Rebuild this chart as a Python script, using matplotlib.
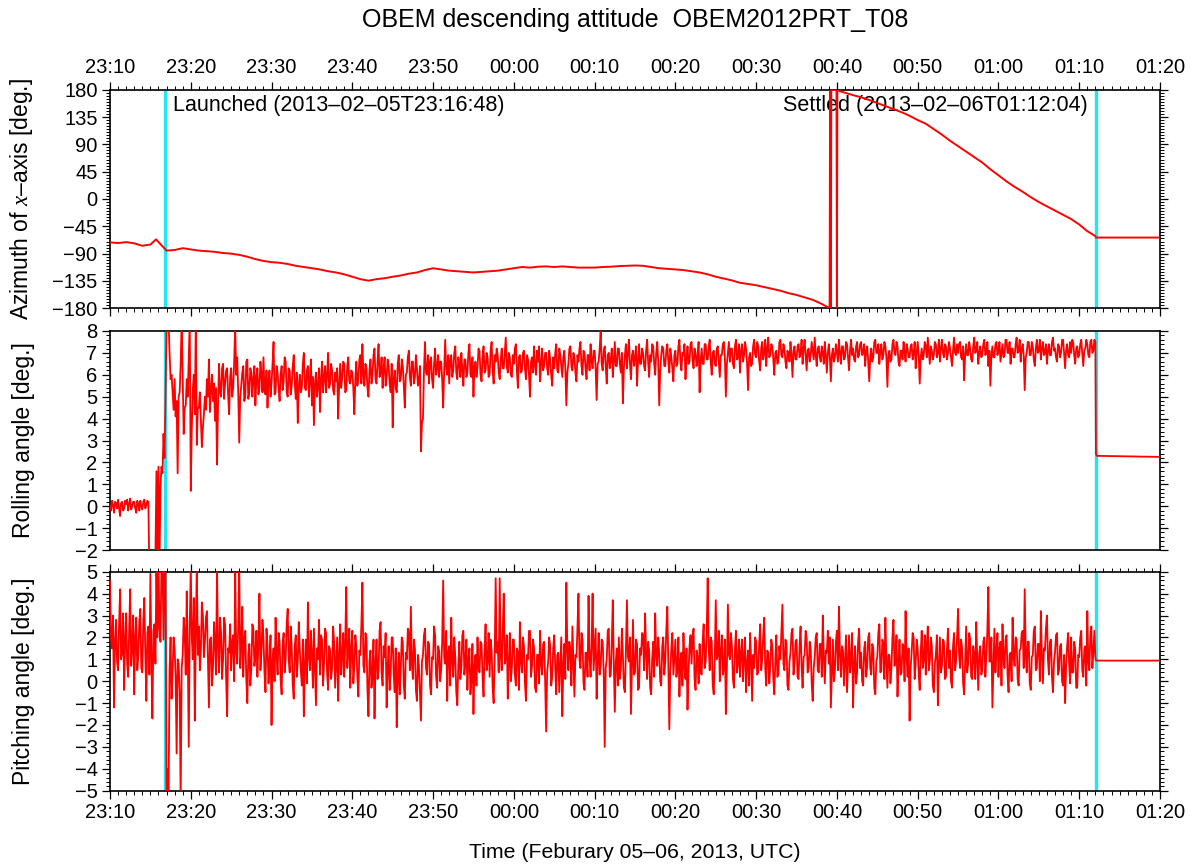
import numpy as np
import pandas as pd
import matplotlib
matplotlib.use("Agg")
import matplotlib.pyplot as plt
import matplotlib.dates as mdates
from matplotlib.ticker import MultipleLocator

plt.rcParams['font.family'] = ['Liberation Sans', 'DejaVu Sans']
plt.rcParams['mathtext.fontset'] = 'custom'
plt.rcParams['mathtext.it'] = 'Liberation Serif:italic'
plt.rcParams['mathtext.rm'] = 'Liberation Sans'

start = pd.Timestamp("2013-02-05 23:10:00")
end = pd.Timestamp("2013-02-06 01:20:00")
launched = pd.Timestamp("2013-02-05 23:16:48")
settled = pd.Timestamp("2013-02-06 01:12:04")

# azimuth of x-axis, minutes after 23:10
az_min = [0, 1, 2, 3, 4, 5, 5.7, 6.3, 6.8, 7, 8, 9, 10, 11, 12, 13, 14, 15, 16, 17,
          18, 19, 20, 21, 22, 23, 24, 25, 26, 27, 28, 29, 30, 31, 32, 33, 34, 35, 36, 37,
          38, 39, 40, 41, 42, 43, 44, 45, 46, 47, 48, 49, 50, 51, 52, 53, 54, 55, 56, 57,
          58, 59, 60, 61, 62, 63, 64, 65, 66, 67, 68, 69, 70, 71, 72, 73, 74, 75, 76, 77,
          78, 79, 80, 81, 82, 83, 84, 85, 86, 87, 88, 88.7, 89.1,
          89.15, 89.25, 89.3, 89.95, 90.0, 90.05,
          90.5, 91, 92, 93, 94, 95, 96, 97, 98, 99, 100, 101, 102, 103, 104, 105, 106, 107,
          108, 109, 110, 111, 112, 113, 114, 115, 116, 117, 118, 119, 120, 121, 122,
          122.07, 130]
az_deg = [-71.5, -72.5, -71, -73, -77, -75, -66.5, -75, -82, -85, -84, -81, -83, -85, -86,
          -87, -89, -90, -92, -95, -99, -102, -104, -105, -107, -110, -112, -114, -116,
          -119, -121, -124, -128, -132, -134.5, -132, -130.5, -128, -126, -123, -121, -117,
          -114, -116, -118, -119, -120, -121, -120, -119, -118, -116, -114, -112, -113,
          -111.5, -111, -112, -111, -112, -113, -113, -113, -112, -111.5, -110.5, -110,
          -109.5, -110, -112, -114, -115, -116, -117, -119, -121, -124, -128, -131, -134,
          -138, -140, -142, -145, -148, -151, -155, -158, -162, -166, -172, -177, -179.5,
          179.5, -179.5, 179.5, 179.5, -179.5, 179.2,
          177, 175, 171, 167.5, 163, 158, 153, 148, 143, 137, 130, 124, 115, 106, 96, 87,
          78, 69, 60, 49, 39, 29, 20, 12, 3, -5, -12, -19, -26, -33, -42, -53, -61,
          -63.5, -63.5]

# rolling angle, 8 samples per minute from 23:10 (one row per minute)
roll_rows = [
    [0.0, -0.2, 0.25, 0.05, -0.3, 0.2, 0.15, -0.1],
    [0.3, -0.1, -0.45, 0.15, 0.2, -0.2, -0.1, 0.25],
    [0.1, 0.3, -0.2, 0.1, 0.35, -0.15, 0.0, 0.2],
    [0.2, -0.1, -0.3, 0.25, 0.1, -0.2, 0.25, 0.0],
    [-0.15, 0.2, 0.3, -0.1, 0.05, 0.25, 0.2, -3.0],
    [-3.0, -3.0, -3.0, -3.0, -3.0, -2.2, 1.6, -2.4],
    [1.8, -2.5, 0.9, 1.8, 1.5, 3.3, 2.2, 5.0],
    [8.5, 8.5, 8.5, 7.0, 5.8, 6.0, 5.2, 4.4],
    [5.8, 4.1, 4.8, 1.5, 5.0, 5.2, 6.5, 8.5],
    [6.0, 3.3, 4.5, 4.6, 5.8, 5.0, 6.8, 8.5],
    [0.7, 3.5, 5.3, 6.0, 4.2, 8.5, 2.8, 4.5],
    [4.5, 5.2, 4.0, 2.7, 3.6, 4.2, 5.0, 4.4],
    [5.8, 5.0, 6.7, 4.3, 5.3, 6.0, 4.8, 5.6],
    [3.9, 5.4, 1.9, 4.6, 6.5, 5.2, 5.0, 6.3],
    [6.5, 4.9, 5.6, 6.2, 6.3, 5.1, 4.2, 5.9],
    [6.3, 5.0, 5.4, 6.6, 8.2, 6.0, 6.8, 5.2],
    [2.9, 5.0, 5.5, 6.1, 6.4, 4.8, 5.0, 6.6],
    [6.7, 4.9, 5.2, 6.3, 6.1, 5.0, 5.8, 6.4],
    [4.6, 5.9, 6.3, 5.1, 5.4, 6.6, 6.0, 5.2],
    [6.8, 5.3, 5.1, 6.2, 4.5, 5.8, 6.2, 5.0],
    [5.6, 6.5, 7.5, 5.1, 5.2, 6.4, 6.1, 5.4],
    [4.8, 6.0, 6.4, 5.3, 5.7, 6.8, 6.6, 5.2],
    [5.0, 6.3, 6.2, 5.1, 5.5, 6.4, 6.9, 5.6],
    [4.9, 6.1, 3.8, 5.5, 6.0, 5.2, 5.4, 6.5],
    [7.0, 5.4, 5.3, 6.2, 6.4, 5.0, 5.8, 6.7],
    [4.6, 5.9, 3.7, 5.6, 6.1, 5.0, 5.5, 6.3],
    [4.3, 5.8, 6.6, 5.2, 5.9, 6.4, 5.2, 6.0],
    [7.0, 5.4, 5.6, 6.5, 6.2, 5.3, 5.1, 6.1],
    [5.7, 6.3, 4.0, 5.6, 6.5, 5.4, 5.9, 6.6],
    [6.5, 5.2, 5.3, 6.4, 6.8, 5.7, 5.6, 6.2],
    [6.1, 5.4, 4.2, 5.8, 6.6, 5.5, 5.8, 6.7],
    [6.9, 5.6, 7.4, 6.0, 5.5, 6.5, 6.3, 5.4],
    [5.0, 6.2, 6.7, 5.6, 6.0, 6.9, 7.2, 5.8],
    [5.6, 6.6, 7.4, 5.9, 6.1, 6.8, 5.4, 6.3],
    [6.8, 5.5, 5.9, 6.7, 6.4, 5.6, 5.2, 6.5],
    [3.6, 5.8, 6.2, 5.4, 5.2, 6.5, 6.9, 5.7],
    [5.8, 6.7, 6.4, 5.5, 4.5, 6.0, 6.1, 6.8],
    [7.1, 5.9, 5.5, 6.6, 6.6, 5.6, 5.9, 6.9],
    [6.3, 5.5, 5.7, 6.4, 2.5, 3.8, 4.0, 6.2],
    [7.5, 6.1, 6.0, 6.9, 5.6, 6.6, 6.8, 5.8],
    [5.4, 6.5, 7.2, 6.0, 6.3, 6.9, 5.9, 6.6],
    [6.6, 5.8, 4.5, 6.2, 7.6, 6.3, 6.0, 6.9],
    [5.6, 6.7, 6.9, 5.9, 6.2, 7.0, 7.3, 6.1],
    [5.8, 6.8, 6.5, 5.9, 7.0, 6.2, 5.5, 6.7],
    [6.7, 5.9, 6.1, 7.0, 7.4, 6.0, 5.9, 6.8],
    [5.0, 6.4, 6.6, 5.9, 6.3, 7.2, 7.1, 6.0],
    [5.7, 6.8, 7.3, 6.1, 6.2, 7.0, 6.8, 5.9],
    [6.0, 7.1, 7.5, 6.2, 5.6, 6.9, 6.6, 7.2],
    [6.9, 6.1, 5.8, 6.7, 7.2, 6.3, 6.3, 7.0],
    [7.7, 6.4, 6.1, 7.0, 6.8, 6.0, 5.9, 6.9],
    [6.5, 7.2, 7.4, 6.2, 5.4, 6.8, 6.9, 6.1],
    [6.2, 7.0, 7.1, 6.3, 5.8, 6.9, 6.7, 6.0],
    [5.0, 6.6, 6.8, 6.1, 7.3, 6.4, 6.0, 7.1],
    [6.6, 7.3, 5.7, 6.5, 7.2, 6.2, 6.4, 7.0],
    [7.0, 6.3, 6.0, 7.1, 6.7, 6.0, 5.5, 6.8],
    [6.3, 7.0, 7.4, 6.2, 6.1, 7.2, 6.9, 6.4],
    [5.9, 6.8, 7.1, 6.3, 4.6, 6.1, 6.5, 7.2],
    [7.3, 6.4, 6.2, 7.0, 6.8, 6.1, 5.7, 6.9],
    [6.6, 7.2, 7.5, 6.4, 6.0, 7.1, 7.0, 6.3],
    [5.8, 6.9, 6.9, 6.2, 7.4, 6.6, 6.3, 7.1],
    [7.1, 6.3, 4.85, 6.5, 6.6, 7.2, 8.0, 6.5],
    [6.2, 7.1, 7.3, 6.4, 5.6, 6.9, 7.0, 6.3],
    [6.7, 7.2, 5.9, 6.6, 7.5, 6.4, 6.4, 7.2],
    [7.2, 6.5, 6.1, 7.0, 4.7, 6.3, 6.9, 7.4],
    [6.3, 7.0, 7.6, 6.5, 5.8, 6.9, 7.1, 6.4],
    [6.8, 7.3, 5.5, 6.6, 7.4, 6.5, 6.5, 7.2],
    [7.0, 6.4, 6.2, 7.1, 7.6, 6.6, 5.9, 6.9],
    [6.6, 7.4, 7.3, 6.5, 6.0, 7.0, 7.5, 6.6],
    [4.6, 6.2, 6.9, 7.3, 7.2, 6.4, 6.4, 7.1],
    [7.4, 6.6, 6.1, 7.2, 6.8, 6.3, 5.7, 6.9],
    [7.1, 6.4, 6.5, 7.3, 7.6, 6.6, 6.2, 7.0],
    [6.9, 7.4, 5.8, 6.7, 7.3, 6.5, 6.6, 7.4],
    [7.5, 6.7, 6.3, 7.2, 7.0, 6.4, 6.8, 7.5],
    [5.2, 6.6, 7.2, 6.5, 6.5, 7.4, 7.4, 6.7],
    [6.7, 7.3, 7.6, 6.6, 6.0, 7.0, 7.1, 6.5],
    [6.4, 7.2, 7.3, 6.6, 5.9, 6.9, 6.9, 7.4],
    [7.5, 6.8, 5.0, 6.5, 7.0, 7.5, 6.6, 7.2],
    [7.2, 6.5, 6.3, 7.3, 7.6, 6.7, 6.8, 7.4],
    [6.1, 7.1, 7.4, 6.6, 6.9, 7.5, 7.2, 6.5],
    [5.3, 6.8, 7.0, 6.4, 6.5, 7.3, 7.6, 6.9],
    [6.8, 7.5, 7.3, 6.6, 6.2, 7.2, 7.5, 6.7],
    [7.0, 7.6, 6.4, 7.2, 7.7, 6.8, 6.9, 7.4],
    [7.3, 6.7, 6.0, 7.0, 7.1, 6.5, 6.6, 7.5],
    [7.6, 6.9, 6.8, 7.4, 7.2, 6.6, 6.3, 7.1],
    [7.0, 6.6, 7.5, 6.9, 5.9, 7.1, 7.3, 6.7],
    [6.7, 7.3, 7.4, 6.8, 7.0, 7.6, 6.5, 7.2],
    [7.6, 6.9, 6.2, 7.1, 7.2, 6.6, 6.9, 7.5],
    [7.1, 6.7, 7.7, 6.9, 6.4, 7.2, 7.3, 6.8],
    [6.6, 7.3, 7.0, 6.5, 7.5, 6.9, 6.1, 7.0],
    [7.4, 6.8, 5.7, 6.9, 7.2, 6.6, 6.8, 7.4],
    [7.0, 6.6, 7.6, 7.0, 6.5, 7.3, 7.3, 6.7],
    [6.8, 7.5, 7.4, 6.8, 6.2, 7.1, 7.6, 6.9],
    [7.2, 6.7, 6.6, 7.3, 7.5, 6.8, 6.9, 7.4],
    [7.5, 6.9, 7.0, 7.4, 6.4, 7.1, 7.3, 6.6],
    [5.7, 6.8, 7.2, 6.6, 6.8, 7.5, 7.6, 7.0],
    [7.0, 7.4, 6.5, 7.1, 7.4, 6.7, 6.9, 7.5],
    [7.3, 6.8, 5.45, 6.9, 7.1, 6.6, 6.7, 7.4],
    [7.6, 7.0, 6.9, 7.5, 7.3, 6.6, 6.4, 7.1],
    [7.1, 6.7, 7.5, 7.0, 6.6, 7.4, 7.2, 6.8],
    [6.8, 7.3, 7.4, 6.7, 7.0, 7.5, 6.3, 7.0],
    [7.5, 6.9, 5.6, 6.8, 7.2, 6.7, 6.9, 7.5],
    [7.3, 6.8, 7.7, 7.1, 6.5, 7.3, 7.1, 6.7],
    [6.9, 7.5, 7.4, 6.8, 7.0, 7.6, 6.6, 7.2],
    [7.6, 7.0, 6.8, 7.4, 7.3, 6.7, 7.0, 7.5],
    [7.2, 6.8, 6.4, 7.1, 7.7, 7.0, 6.9, 7.4],
    [7.0, 7.4, 7.5, 6.8, 6.7, 7.3, 5.75, 6.9],
    [7.4, 6.9, 6.9, 7.5, 7.2, 6.7, 6.6, 7.3],
    [7.7, 7.0, 7.1, 7.5, 6.5, 7.0, 7.3, 6.8],
    [6.9, 7.4, 7.6, 6.9, 7.0, 7.5, 6.4, 7.1],
    [5.5, 6.9, 7.3, 6.8, 6.8, 7.4, 7.5, 6.9],
    [7.1, 7.5, 6.6, 7.0, 7.4, 6.8, 6.9, 7.6],
    [7.6, 7.0, 7.0, 7.5, 6.5, 7.2, 7.2, 6.8],
    [6.8, 7.4, 7.7, 7.0, 7.1, 7.6, 6.6, 7.2],
    [7.4, 6.9, 5.3, 6.8, 7.0, 7.5, 7.5, 6.9],
    [6.9, 7.5, 7.3, 6.7, 6.4, 7.2, 7.6, 7.0],
    [7.1, 7.6, 6.7, 7.2, 7.5, 6.9, 7.0, 7.4],
    [6.5, 7.1, 7.4, 6.9, 6.9, 7.5, 7.7, 7.1],
    [7.2, 6.8, 6.6, 7.4, 7.3, 6.8, 7.0, 7.6],
    [7.6, 7.0, 6.3, 7.1, 7.4, 6.9, 6.8, 7.5],
    [7.0, 7.6, 7.5, 6.9, 6.5, 7.2, 7.3, 6.8],
    [6.9, 7.4, 7.6, 7.0, 6.4, 7.1, 7.2, 7.6],
    [7.4, 6.9, 6.8, 7.5, 7.6, 7.0, 7.1, 7.6],
]
roll_tail_min = [122.0, 122.07, 122.15, 130.0]
roll_tail = [7.5, 2.4, 2.3, 2.25]

# pitching angle, 8 samples per minute from 23:10 (one row per minute)
pitch_rows = [
    [4.6, 2.0, 1.5, 3.0, -1.2, 1.8, 2.8, 0.9],
    [0.5, 2.6, 4.2, 1.0, 1.3, 3.1, -0.4, 1.9],
    [3.1, 0.8, 0.2, 2.4, 4.2, 0.7, 1.6, 3.0],
    [-0.6, 2.0, 2.9, 0.5, 1.1, 2.7, 3.3, 0.6],
    [0.4, 2.8, 3.8, 1.2, -0.9, 2.2, 2.5, 0.3],
    [4.9, 1.0, -1.7, 2.3, 2.6, 0.8, 5.3, 2.0],
    [5.5, 2.4, 1.8, 5.4, 5.6, 1.9, 5.3, 5.5],
    [-5.5, -4.0, -5.3, 0.5, 2.0, -0.8, 0.4, 2.0],
    [1.5, 0.2, -3.3, 1.0, 0.8, -0.5, -5.5, 0.6],
    [1.2, 2.9, 2.2, 0.3, 4.1, 1.5, -3.0, 2.5],
    [5.3, 2.0, 1.0, 3.8, -1.8, 2.2, 5.4, 1.2],
    [2.5, 0.5, 1.4, 3.6, 3.0, 1.1, 1.8, 2.9],
    [3.2, 1.0, -1.2, 1.9, 2.0, -0.2, 0.6, 2.7],
    [1.8, 0.3, 5.2, 1.6, 0.4, 2.9, 2.2, 0.1],
    [1.0, 2.9, 2.6, 0.2, -1.6, 1.5, 1.3, 2.6],
    [0.5, 1.8, 2.1, 0.0, 5.2, 1.4, 0.8, 2.5],
    [5.3, 0.6, 1.5, 3.4, 0.2, 1.9, 2.3, 0.1],
    [-1.0, 1.2, 1.7, -0.2, 0.6, 2.6, 2.4, 0.7],
    [1.1, 2.3, 0.2, 1.8, 4.0, 0.5, 1.3, 2.8],
    [2.0, 0.4, -0.5, 2.4, 1.6, -0.1, 0.8, 2.1],
    [-2.0, 0.9, 1.5, 0.0, 2.9, 1.2, 0.3, 2.2],
    [1.8, 0.1, -0.6, 1.7, 2.2, 0.4, 1.0, 2.6],
    [3.3, 1.0, 0.4, 2.5, 1.5, -0.2, -0.8, 1.6],
    [2.1, 0.2, 0.9, 2.7, 1.4, 0.5, -0.2, 1.9],
    [-1.6, 0.8, 1.9, -0.1, 3.6, 1.1, 0.5, 2.3],
    [1.2, -0.3, 2.4, 0.7, -1.1, 1.5, 1.0, 2.8],
    [0.3, 2.1, 1.9, -0.2, 0.8, 2.4, 2.2, 0.4],
    [-0.4, 1.6, 1.4, 0.1, 0.6, 2.5, 1.8, -0.3],
    [0.9, 2.0, -0.9, 1.2, 2.6, 0.3, 1.1, 2.2],
    [0.2, 1.7, 4.3, 0.6, 1.3, 2.4, -0.3, 1.5],
    [2.3, -0.1, 0.7, 2.1, 1.6, 0.2, -0.7, 1.4],
    [1.2, 2.6, 4.5, 0.7, 0.4, 2.2, 2.0, -0.4],
    [-1.6, 0.9, 1.4, -0.3, 0.3, 1.9, -1.7, 0.8],
    [1.9, 0.1, 0.5, 2.3, 2.7, 0.4, -0.2, 1.6],
    [1.1, 2.2, -1.2, 0.6, 1.6, -0.4, 0.4, 2.0],
    [2.0, 0.3, -0.5, 1.5, -2.1, 0.2, 1.3, -0.6],
    [0.6, 2.0, 1.8, -0.2, -0.8, 1.3, 1.0, 2.4],
    [2.2, 0.5, 3.4, 0.8, 0.1, 1.9, 1.5, -0.4],
    [-0.9, 1.2, 0.7, -0.5, -1.8, 0.9, 1.2, 2.1],
    [2.4, 0.6, 0.3, 1.8, 1.7, -0.2, -0.6, 1.1],
    [1.0, 2.5, 2.1, 0.2, -0.3, 1.6, 1.4, 0.0],
    [0.5, 1.8, 4.6, 1.1, 0.8, 2.3, -0.9, 1.3],
    [1.6, -0.2, 2.9, 0.9, 0.2, 2.0, 1.1, -0.5],
    [-1.1, 0.8, 1.8, 0.1, 0.6, 2.1, 2.3, 0.3],
    [0.9, 1.9, -0.4, 1.0, 1.5, -0.6, 0.1, 1.7],
    [-1.5, 0.7, 1.2, -0.2, 2.0, 0.6, 0.4, 1.8],
    [1.7, 0.2, -0.7, 1.4, 2.6, 0.5, 0.9, 2.2],
    [0.2, 1.9, 1.4, -0.3, -1.0, 1.1, 4.7, 1.3],
    [1.8, 0.4, 4.7, 1.2, 0.5, 2.4, 4.0, 0.8],
    [1.1, 2.1, -0.8, 0.9, 2.2, 0.0, 0.6, 1.9],
    [1.9, 0.3, -0.2, 1.5, 1.3, -0.4, 2.7, 0.9],
    [0.4, 2.0, 1.6, -0.1, -0.9, 1.2, 1.0, 2.3],
    [2.3, 0.2, 0.7, 1.9, 1.5, -0.3, -0.5, 1.2],
    [1.2, -0.1, 2.3, 0.8, 0.3, 1.7, 1.8, 0.0],
    [-2.3, 0.4, 0.9, 2.0, 1.6, -0.2, 0.2, 1.5],
    [2.1, 0.6, -0.6, 1.2, 1.3, -0.5, 0.8, 2.0],
    [-1.6, 0.7, 1.7, 0.1, 4.5, 1.4, 0.5, 1.8],
    [1.4, -0.2, 2.5, 0.9, -0.7, 1.2, 1.1, 2.4],
    [4.0, 1.0, 0.6, 2.2, 1.9, -0.1, -0.4, 1.3],
    [1.3, 0.2, 3.9, 1.1, 0.2, 1.6, 4.0, 0.5],
    [1.5, 2.4, -0.8, 0.9, 2.2, 0.3, 0.7, 1.9],
    [1.8, 0.4, -3.0, 0.6, 1.0, 2.3, 2.4, 0.2],
    [0.3, 1.7, 3.7, 0.8, -1.4, 0.9, 1.5, -0.2],
    [2.0, 0.1, 0.6, 2.4, 1.2, -0.3, -0.5, 1.4],
    [3.7, 1.1, 0.9, 2.0, -1.5, 0.7, 2.8, 0.3],
    [0.4, 1.9, 1.7, -0.4, -0.3, 1.5, 1.2, 2.2],
    [2.1, 0.5, 3.1, 1.3, 0.1, 1.8, 1.4, -0.3],
    [-0.6, 1.0, 1.8, 0.2, 3.1, 1.2, 0.7, 2.0],
    [1.3, 0.0, -0.2, 1.6, 2.0, 0.3, 0.9, 2.3],
    [3.4, 0.8, -2.2, 0.5, 1.5, 2.2, 0.3, 1.1],
    [1.9, 0.2, 0.6, 2.0, -0.7, 0.9, 1.3, -0.2],
    [2.2, 0.7, 0.1, 1.5, -1.3, 0.4, 1.6, 2.1],
    [0.8, 2.0, 2.4, 0.1, -0.4, 1.4, 1.1, -0.1],
    [1.7, 0.4, 0.3, 1.8, 2.6, 0.6, 0.9, 2.2],
    [4.7, 1.5, 0.5, 2.0, 1.8, -0.2, -0.6, 1.0],
    [3.7, 1.0, 1.2, 2.3, 0.0, 1.4, 2.1, 0.3],
    [0.7, 1.9, -1.5, 0.6, 3.5, 1.2, 1.0, 2.2],
    [1.6, 0.1, -0.3, 1.5, 2.3, 0.4, 0.8, 1.9],
    [0.2, 1.3, 1.9, 0.0, 1.1, 2.0, -0.5, 0.8],
    [1.4, -0.2, 2.2, 1.0, -0.9, 1.2, 0.6, 2.0],
    [1.8, 0.3, 0.4, 1.7, 2.6, 0.5, 1.0, 2.1],
    [2.9, 0.6, -0.2, 1.4, 1.3, -0.1, 0.7, 1.9],
    [1.6, 0.1, -0.6, 1.0, 2.1, 0.2, 0.3, 1.6],
    [1.0, 2.2, 3.5, 0.8, 0.5, 1.9, 1.7, -0.2],
    [-0.4, 0.9, 1.3, 2.2, 2.4, 0.3, 0.8, 1.8],
    [1.9, 0.2, 0.1, 1.6, 2.5, 0.7, -0.3, 1.1],
    [1.2, 2.3, 2.0, 0.4, 0.6, 1.8, 1.5, -0.1],
    [-0.9, 0.6, 1.1, 2.0, 2.2, 0.5, 0.4, 1.7],
    [1.7, 0.2, 3.0, 1.1, -0.1, 1.4, 1.3, 2.3],
    [0.8, 2.0, -1.2, 0.4, 1.9, 0.0, 0.5, 1.8],
    [2.3, 0.5, 3.4, 1.2, 0.2, 1.6, 1.4, -0.2],
    [0.9, 2.1, -0.5, 0.8, 2.1, 0.4, 1.0, 2.2],
    [-1.2, 0.7, 1.6, -0.1, 0.4, 1.8, 2.4, 0.6],
    [1.3, 0.0, -0.2, 1.5, 1.8, 0.2, 0.7, 2.0],
    [2.2, 0.6, 0.3, 1.7, 1.5, -0.3, -0.6, 0.9],
    [1.1, 2.2, 2.6, 0.4, 0.5, 1.9, 1.7, 0.1],
    [2.9, 0.9, -0.3, 1.2, 1.2, -0.1, 0.6, 2.0],
    [2.8, 0.7, 0.9, 2.1, -0.7, 0.8, 1.9, 0.3],
    [0.4, 1.7, 1.6, 0.0, 3.2, 1.1, 0.2, 1.5],
    [-1.8, 0.6, 1.3, 2.2, 2.0, 0.1, 0.8, 1.9],
    [1.5, 0.3, -0.4, 1.3, 2.3, 0.6, 1.0, 2.1],
    [0.3, 1.6, 2.5, 0.5, 0.9, 2.0, 1.6, -0.2],
    [-0.5, 0.8, 1.2, 2.1, -1.1, 0.7, 2.0, 0.4],
    [0.7, 1.9, 1.8, 0.1, 0.2, 1.5, 2.4, 0.6],
    [1.4, 0.0, -0.3, 1.6, 2.2, 0.5, 0.9, 2.0],
    [3.3, 1.2, 0.6, 1.9, 1.5, -0.1, -0.6, 1.0],
    [2.5, 0.4, 0.8, 2.2, 1.9, 0.2, 0.1, 1.6],
    [1.2, 0.1, 2.7, 1.0, -0.4, 1.3, 1.6, 0.3],
    [0.5, 1.8, 2.0, 0.2, 1.1, 2.3, 4.3, 0.9],
    [0.9, 2.0, -1.2, 0.6, 2.4, 0.4, 1.4, 2.2],
    [0.2, 1.5, 1.8, -0.2, 2.6, 1.0, 0.6, 1.9],
    [2.1, 0.3, -0.5, 1.2, 1.3, 0.0, 2.9, 1.1],
    [0.7, 2.0, 1.9, 0.1, -0.2, 1.4, 1.5, 2.2],
    [2.3, 0.6, 4.2, 1.3, 0.4, 1.8, 1.8, -0.1],
    [-0.4, 1.1, 1.2, 2.3, 2.5, 0.5, 0.6, 1.7],
    [1.7, 0.0, 3.2, 1.2, -0.1, 1.5, 1.4, 2.4],
    [3.0, 1.0, 0.3, 1.8, 1.9, 0.2, -0.5, 0.9],
    [1.3, 2.1, 2.2, 0.3, 0.5, 1.6, 1.7, 0.0],
    [-0.2, 1.2, -1.0, 0.7, 1.6, 2.2, 0.8, -0.1],
    [2.0, 0.4, 0.4, 1.8, 1.5, -0.3, -0.3, 1.2],
    [1.1, 2.0, 2.3, 0.5, 0.2, 1.4, 1.6, -0.2],
    [3.2, 0.9, 0.5, 2.1, 2.5, 0.6, 1.3, 2.3],
]
pitch_tail_min = [122.0, 122.07, 130.0]
pitch_tail = [1.1, 0.94, 0.94]


def to_time(minutes):
    return start + pd.to_timedelta(np.asarray(minutes, dtype=float), unit="min")


def sampled(rows, tail_min, tail_val, per_min=8):
    vals = [v for row in rows for v in row]
    mins = [i / per_min for i in range(len(vals))] + list(tail_min)
    return to_time(mins), np.array(vals + list(tail_val))


roll_t, roll_v = sampled(roll_rows, roll_tail_min, roll_tail)
pitch_t, pitch_v = sampled(pitch_rows, pitch_tail_min, pitch_tail)
az_t = to_time(az_min)

fig = plt.figure(figsize=(11.93, 8.68), dpi=100)
left, width = 110 / 1193, 1050 / 1193
ax1 = fig.add_axes([left, 1 - 308.3 / 868, width, 218.6 / 868])
ax2 = fig.add_axes([left, 1 - 550 / 868, width, 219 / 868])
ax3 = fig.add_axes([left, 1 - 790.7 / 868, width, 219 / 868])

red = "#ff0000"
cyan = "#22e6f2"

ax1.plot(az_t, az_deg, color=red, lw=1.4, zorder=3)
ax2.plot(roll_t, roll_v, color=red, lw=1.3, zorder=3)
ax3.plot(pitch_t, pitch_v, color=red, lw=1.3, zorder=3)

panels = [(ax1, -180, 180, 45, 5, "Azimuth of $x$\u2013axis [deg.]"),
          (ax2, -2, 8, 1, 0.2, "Rolling angle [deg.]"),
          (ax3, -5, 5, 1, 0.2, "Pitching angle [deg.]")]

for ax, lo, hi, major, minor, label in panels:
    for t in (launched, settled):
        ax.axvline(t, color=cyan, lw=2.4, zorder=2)
    ax.set_xlim(start, end)
    ax.set_ylim(lo, hi)
    ax.yaxis.set_major_locator(MultipleLocator(major))
    ax.yaxis.set_minor_locator(MultipleLocator(minor))
    ax.xaxis.set_major_locator(mdates.MinuteLocator(byminute=range(0, 60, 10)))
    ax.xaxis.set_minor_locator(mdates.MinuteLocator())
    ax.xaxis.set_major_formatter(mdates.DateFormatter("%H:%M"))
    ax.tick_params(axis="both", which="major", direction="out", length=6,
                   width=0.9, labelsize=14.5, pad=3)
    ax.tick_params(axis="both", which="minor", direction="out", length=3, width=0.7)
    ax.tick_params(axis="y", which="both", left=True, right=True,
                   labelleft=True, labelright=False)
    ax.set_ylabel(label, fontsize=16.5)
    ax.yaxis.set_label_coords(-0.071, 0.5)
    for s in ax.spines.values():
        s.set_linewidth(1.2)

ax1.tick_params(axis="x", which="both", top=True, bottom=True,
                labeltop=True, labelbottom=False)
ax2.tick_params(axis="x", which="both", top=False, bottom=False,
                labeltop=False, labelbottom=False)
ax3.tick_params(axis="x", which="both", top=True, bottom=True,
                labeltop=False, labelbottom=True)

launch_x = launched + pd.Timedelta(seconds=60)
settle_x = settled - pd.Timedelta(seconds=60)
ax1.text(launch_x, 0.93, "Launched (2013\u201302\u201305T23:16:48)",
         transform=ax1.get_xaxis_transform(), ha="left", va="center", fontsize=15.5, zorder=4)
ax1.text(settle_x, 0.93, "Settled (2013\u201302\u201306T01:12:04)",
         transform=ax1.get_xaxis_transform(), ha="right", va="center", fontsize=15.5, zorder=1)

fig.text(635 / 1193, 1 - 20 / 868, "OBEM descending attitude  OBEM2012PRT_T08",
         ha="center", va="center", fontsize=18)
fig.text(635 / 1193, 1 - 852 / 868, "Time (Feburary 05\u201306, 2013, UTC)",
         ha="center", va="center", fontsize=15.3)

fig.savefig("out.png", dpi=100)
